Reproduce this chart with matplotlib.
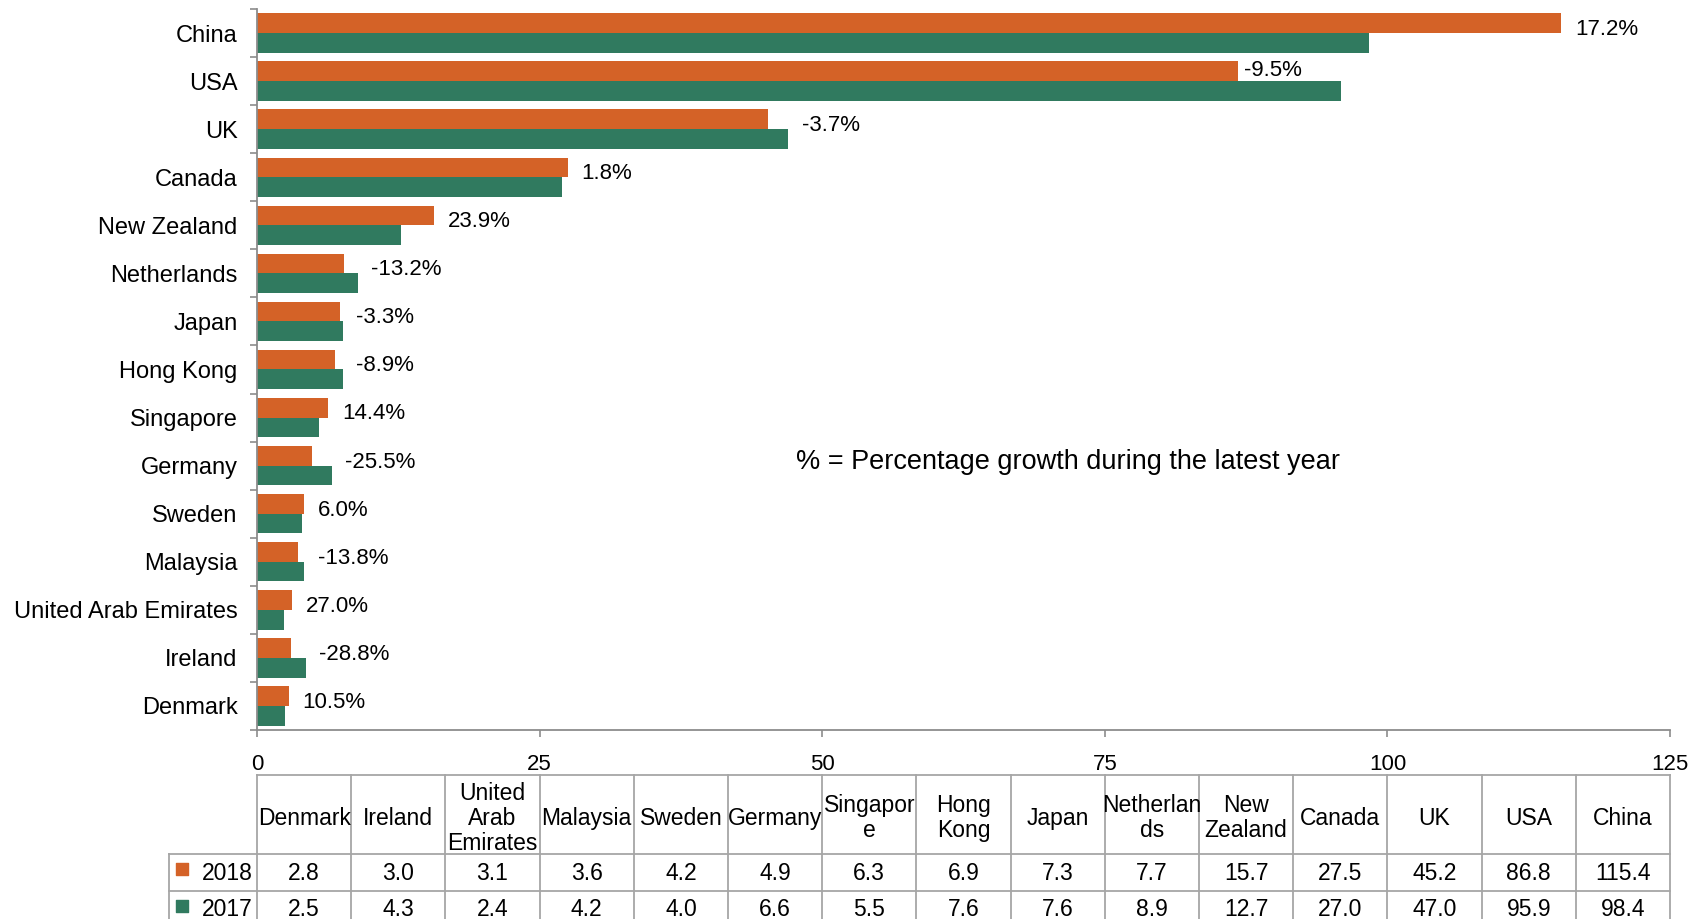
import matplotlib.pyplot as plt
import numpy as np

plt.rcParams['font.family'] = ['Liberation Sans', 'DejaVu Sans']

# datos (de abajo hacia arriba, como en la tabla)
paises = ['Denmark', 'Ireland', 'United Arab Emirates', 'Malaysia', 'Sweden',
          'Germany', 'Singapore', 'Hong Kong', 'Japan', 'Netherlands',
          'New Zealand', 'Canada', 'UK', 'USA', 'China']
cabecera = ['Denmark', 'Ireland', 'United\nArab\nEmirates', 'Malaysia', 'Sweden',
            'Germany', 'Singapor\ne', 'Hong\nKong', 'Japan', 'Netherlan\nds',
            'New\nZealand', 'Canada', 'UK', 'USA', 'China']
v2018 = [2.8, 3.0, 3.1, 3.6, 4.2, 4.9, 6.3, 6.9, 7.3, 7.7, 15.7, 27.5, 45.2, 86.8, 115.4]
v2017 = [2.5, 4.3, 2.4, 4.2, 4.0, 6.6, 5.5, 7.6, 7.6, 8.9, 12.7, 27.0, 47.0, 95.9, 98.4]
crecimiento = ['10.5%', '-28.8%', '27.0%', '-13.8%', '6.0%', '-25.5%', '14.4%', '-8.9%',
               '-3.3%', '-13.2%', '23.9%', '1.8%', '-3.7%', '-9.5%', '17.2%']

naranja = '#D46227'
verde = '#307A5F'
gris = '#8C8C8C'

fig = plt.figure(figsize=(17.07, 9.19), dpi=100)
ax = fig.add_axes([257 / 1707, 1 - 730 / 919, 1413 / 1707, 721 / 919])

n = len(paises)
y = np.arange(n)
h = 0.41
ax.barh(y + h / 2, v2018, height=h, color=naranja, label='2018')
ax.barh(y - h / 2, v2017, height=h, color=verde, label='2017')

# etiquetas de crecimiento
for i in range(n):
    if v2017[i] - v2018[i] > 5:
        xl = v2018[i] + 0.5
        yl = y[i] + h / 2 + 0.02
    else:
        xl = max(v2018[i], v2017[i]) + 1.2
        yl = y[i] + h / 2 - 0.13
    ax.text(xl, yl, crecimiento[i], fontsize=16, va='center', ha='left')

ax.set_xlim(0, 125)
ax.set_ylim(-0.5, n - 0.5)
ax.set_xticks([0, 25, 50, 75, 100, 125])
ax.tick_params(axis='x', length=5, width=1.2, color=gris, pad=12, labelsize=16)
ax.set_yticks(y)
ax.set_yticklabels(paises, fontsize=17)
ax.tick_params(axis='y', which='major', length=0, pad=14)
ax.set_yticks(np.arange(n + 1) - 0.5, minor=True)
ax.tick_params(axis='y', which='minor', length=5, width=1.2, color=gris)
for s in ['top', 'right']:
    ax.spines[s].set_visible(False)
for s in ['left', 'bottom']:
    ax.spines[s].set_color(gris)
    ax.spines[s].set_linewidth(1.3)

ax.text(0.574, 0.372, '% = Percentage growth during the latest year', fontsize=19.5,
        transform=ax.transAxes, ha='center', va='center')

# tabla de datos debajo
tx = fig.add_axes([257 / 1707, 0, 1413 / 1707, 144 / 919])
tx.set_xlim(0, n)
tx.set_ylim(144, 0)
tx.axis('off')
col_lab = -88 / 94.2
filas = [0, 78.5, 115.5, 152.5]
lc = '#A6A6A6'
kw = dict(color=lc, lw=1.3, clip_on=False)
tx.plot([0, n], [0, 0], **kw)
for yy in filas[1:]:
    tx.plot([col_lab, n], [yy, yy], **kw)
for j in range(n + 1):
    tx.plot([j, j], [0, filas[-1]], **kw)
tx.plot([col_lab, col_lab], [filas[1], filas[-1]], **kw)

for j in range(n):
    tx.text(j + 0.5, filas[1] / 2 + 4, cabecera[j], ha='center', va='center',
            fontsize=16.5, linespacing=1.1)
    tx.text(j + 0.5, (filas[1] + filas[2]) / 2 + 1, f'{v2018[j]:.1f}', ha='center',
            va='center', fontsize=16.5)
    tx.text(j + 0.5, (filas[2] + filas[3]) / 2 + 1, f'{v2017[j]:.1f}', ha='center',
            va='center', fontsize=16.5)

for k, (anio, c) in enumerate([('2018', naranja), ('2017', verde)]):
    yc = (filas[k + 1] + filas[k + 2]) / 2
    tx.scatter([col_lab + 0.14], [yc - 3], marker='s', s=65, color=c, clip_on=False)
    tx.text(-0.05, yc + 1, anio, ha='right', va='center', fontsize=16.5)

fig.savefig('out.png', dpi=100)
